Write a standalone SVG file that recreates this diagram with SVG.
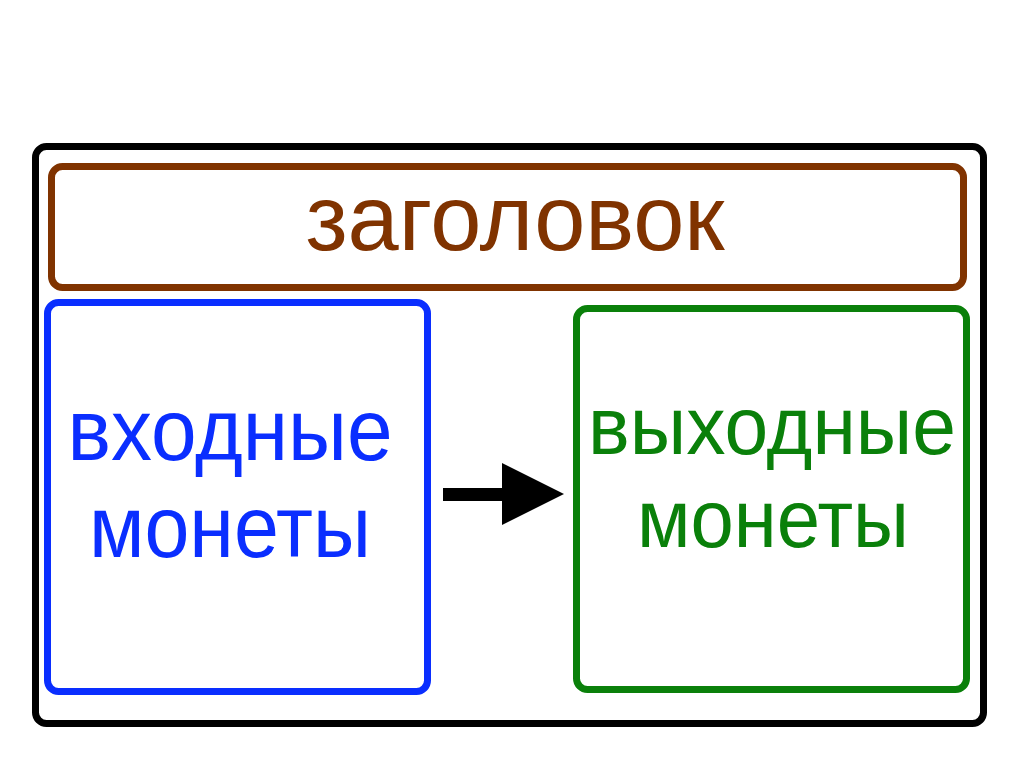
<svg xmlns="http://www.w3.org/2000/svg" width="1024" height="767" viewBox="0 0 1024 767">
<style>
.box{fill:none;stroke-width:7;stroke-linejoin:round}
.t{font-family:"Liberation Sans",Arial,sans-serif;text-anchor:middle}
</style>
<rect x="0" y="0" width="1024" height="767" fill="#fff"/>
<g id="frame"><rect class="box" x="35.5" y="146.5" width="948" height="577" rx="11" stroke="#000"/></g>
<g id="title"><rect class="box" x="51.5" y="166.5" width="912" height="121" rx="11" stroke="#803300"/>
<text class="t" x="515" y="250" font-size="92" fill="#803300">заголовок</text></g>
<g id="inputs"><rect class="box" x="47.5" y="302.5" width="380" height="389" rx="11" stroke="#0a2eff"/>
<text class="t" x="230" y="460" font-size="87" fill="#0a2eff" textLength="325" lengthAdjust="spacingAndGlyphs">входные</text>
<text class="t" x="230" y="557" font-size="87" fill="#0a2eff" textLength="282" lengthAdjust="spacingAndGlyphs">монеты</text></g>
<g id="outputs"><rect class="box" x="576.5" y="308.5" width="390" height="381" rx="11" stroke="#0a800a"/>
<text class="t" x="772" y="454" font-size="82" fill="#0a800a" textLength="368" lengthAdjust="spacingAndGlyphs">выходные</text>
<text class="t" x="773" y="547" font-size="82" fill="#0a800a" textLength="272" lengthAdjust="spacingAndGlyphs">монеты</text></g>
<g id="connectors"><path d="M443 488H502V463L564 494L502 525V501H443Z" fill="#000"/></g>
</svg>
